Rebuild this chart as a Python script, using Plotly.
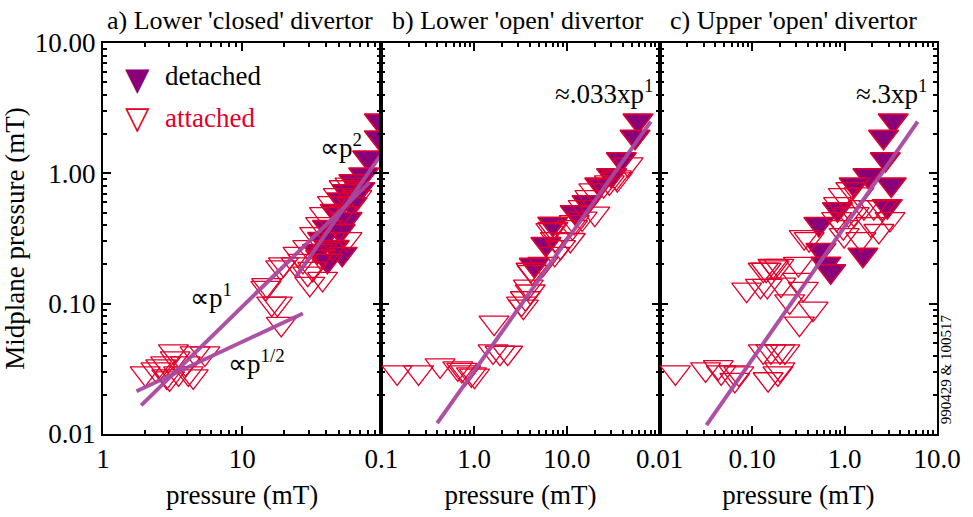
import plotly.graph_objects as go

# ---------------- data ----------------
# Panel a) Lower 'closed' divertor
a_att_x = [2.01, 2.40, 2.82, 3.21, 3.91, 4.59, 5.40, 2.87, 4.10, 3.49, 4.45, 3.01, 2.6, 3.3,
           15.0, 19.8, 16.3, 17.9, 19.1, 14.8, 24.4, 30.6, 18.9,
           59.5, 54.0, 49.0, 44.5, 66.7, 39.0, 52.3, 36.6, 56.7, 33.2, 43.0, 29.6, 36.6,
           27.3, 32.1, 44.5, 25.2, 29.6, 37.8]
a_att_y = [0.0292, 0.0313, 0.0348, 0.0431, 0.0348, 0.0415, 0.0415, 0.0277, 0.0292, 0.0292, 0.0277, 0.0267, 0.033, 0.038,
           0.139, 0.20, 0.10, 0.10, 0.070, 0.132, 0.20, 0.142, 0.19,
           0.82, 0.782, 0.68, 0.59, 0.656, 0.486, 0.495, 0.408, 0.313, 0.342, 0.313, 0.272, 0.229,
           0.213, 0.185, 0.263, 0.241, 0.170, 0.155]
a_det_x = [96.8, 96.8, 79.7, 74.7, 63.5, 70.0, 56.7, 52.3, 61.5, 46.7, 56.7, 41.0, 50.6, 37.8,
           45.9, 52.3, 34.8, 41.0]
a_det_y = [2.54, 1.88, 1.32, 0.98, 0.869, 0.755, 0.729, 0.63, 0.58, 0.513, 0.446, 0.387, 0.361, 0.313,
           0.272, 0.241, 0.254, 0.213]

# Panel b) Lower 'open' divertor
b_att_x = [0.148, 0.252, 0.43, 0.667, 0.735, 0.81, 0.935, 1.01, 1.64, 1.60, 1.90, 2.30, 3.24, 3.40, 4.03,
           19.5, 17.7, 15.0, 12.0, 11.5, 6.71, 7.5, 8.55, 5.52, 4.1, 24.9, 28.7, 34.2, 7.05, 4.23,
           3.84, 7.40, 10.9, 14.6, 3.57, 20.0, 45.7, 35.0]
b_att_y = [0.0297, 0.0297, 0.0336, 0.0319, 0.031, 0.0297, 0.0287, 0.028, 0.0716, 0.043, 0.042, 0.042, 0.100, 0.095, 0.124,
           0.741, 0.656, 0.55, 0.423, 0.387, 0.367, 0.313, 0.272, 0.202, 0.182, 0.81, 0.853, 0.93, 0.374, 0.175,
           0.135, 0.241, 0.308, 0.45, 0.11, 0.49, 1.17, 0.90]
b_det_x = [58.4, 54.3, 38.6, 30.3, 22.6, 16.5, 12.3, 5.94, 4.44, 7.05]
b_det_y = [2.54, 1.91, 1.28, 0.966, 0.82, 0.60, 0.503, 0.287, 0.199, 0.41]

# Panel c) Upper 'open' divertor
c_att_x = [0.0148, 0.0314, 0.0431, 0.0463, 0.0635, 0.0718, 0.065, 0.132, 0.160, 0.20, 0.226, 0.149, 0.20, 0.19,
           0.0873, 0.123, 0.146, 0.132, 0.168, 0.195, 0.255, 0.325, 0.457, 0.309, 0.358, 0.205,
           0.97, 0.86, 1.10, 1.27, 1.62, 2.07, 2.57, 0.82, 0.97, 0.99, 0.366, 0.414, 0.317, 0.173,
           0.142, 1.92, 2.35, 1.5, 3.1, 1.43, 1.17]
c_att_y = [0.0297, 0.0313, 0.0326, 0.0297, 0.0297, 0.0292, 0.026, 0.0431, 0.0431, 0.0431, 0.0431, 0.0263, 0.0313, 0.0292,
           0.128, 0.137, 0.137, 0.182, 0.195, 0.195, 0.104, 0.0703, 0.0916, 0.152, 0.130, 0.140,
           0.68, 0.58, 0.486, 0.486, 0.55, 0.55, 0.55, 0.446, 0.387, 0.336, 0.324, 0.313, 0.202, 0.19,
           0.182, 0.408, 0.361, 0.313, 0.446, 0.69, 0.755]
c_det_x = [3.36, 2.64, 2.76, 1.79, 1.27, 3.20, 2.9, 0.528, 0.839, 0.555, 1.58, 0.627, 0.708]
c_det_y = [2.54, 1.91, 1.28, 0.966, 0.82, 0.82, 0.56, 0.408, 0.53, 0.258, 0.237, 0.202, 0.177]

# fitted power-law lines (end points)
a_fit_half_x = [1.74, 27.3]
a_fit_half_y = [0.0213, 0.084]
a_fit_one_x = [1.88, 82.3]
a_fit_one_y = [0.0166, 0.853]
a_fit_two_x = [24.4, 100.0]
a_fit_two_y = [0.161, 1.40]
b_fit_x = [0.40, 80.2]
b_fit_y = [0.0121, 2.49]
c_fit_x = [0.0321, 6.18]
c_fit_y = [0.0117, 2.49]

# tick labels
y_tickvals = [0.01, 0.1, 1, 10]
y_ticktext = ["0.01", "0.10", "1.00", "10.00"]
a_tickvals = [1, 10]
a_ticktext = ["1", "10"]
b_tickvals = [0.1, 1, 10]
b_ticktext = ["0.1", "1.0", "10.0"]
c_tickvals = [0.01, 0.1, 1, 10]
c_ticktext = ["0.01", "0.10", "1.0", "10.0"]

titles = ["a) Lower 'closed' divertor", "b) Lower 'open' divertor", "c) Upper 'open' divertor"]

# ---------------- style ----------------
FONT = "Liberation Serif, Times New Roman, serif"
FS = 27
PURPLE = "#8A0078"
RED = "#E2002B"
LINE = "rgba(168,72,158,0.95)"
MSIZE = 26

fig = go.Figure()

panels = [
    ("x", "y", a_att_x, a_att_y, a_det_x, a_det_y,
     [(a_fit_half_x, a_fit_half_y), (a_fit_one_x, a_fit_one_y), (a_fit_two_x, a_fit_two_y)]),
    ("x2", "y2", b_att_x, b_att_y, b_det_x, b_det_y, [(b_fit_x, b_fit_y)]),
    ("x3", "y3", c_att_x, c_att_y, c_det_x, c_det_y, [(c_fit_x, c_fit_y)]),
]

for xa, ya, ax_, ay_, dx_, dy_, fits in panels:
    fig.add_trace(go.Scatter(x=dx_, y=dy_, xaxis=xa, yaxis=ya, mode="markers", showlegend=False,
                             marker=dict(symbol="triangle-down", size=MSIZE, color=PURPLE,
                                         line=dict(color=RED, width=1.5))))
    fig.add_trace(go.Scatter(x=ax_, y=ay_, xaxis=xa, yaxis=ya, mode="markers", showlegend=False,
                             marker=dict(symbol="triangle-down-open", size=MSIZE, color=RED,
                                         line=dict(color=RED, width=1.3))))
    for fx, fy in fits:
        fig.add_trace(go.Scatter(x=fx, y=fy, xaxis=xa, yaxis=ya, mode="lines", showlegend=False,
                                 line=dict(color=LINE, width=4)))

L, R, T, B = 96, 26, 43, 81
W, H = 973, 517
pw = W - L - R


def dom(p0, p1):
    return [(p0 - L) / pw, (p1 - L) / pw]


minor_y = [m * 10.0 ** e for e in (-2, -1, 0) for m in range(2, 10)]
minor_a = [m * 10.0 ** e for e in (0, 1) for m in range(2, 10)]
minor_b = [m * 10.0 ** e for e in (-1, 0, 1) for m in range(2, 10)]
minor_c = [m * 10.0 ** e for e in (-2, -1, 0) for m in range(2, 10)]

common_axis = dict(type="log", showline=True, linecolor="black", linewidth=2, mirror="ticks",
                   ticks="inside", ticklen=8, tickwidth=2, tickcolor="black", showgrid=False,
                   zeroline=False, tickfont=dict(family=FONT, size=FS, color="black"))


def xaxis(domain, rng, tv, tt, minor, anchor):
    d = dict(common_axis)
    d.update(domain=domain, range=rng, tickmode="array", tickvals=tv, ticktext=tt, anchor=anchor,
             minor=dict(tickmode="array", tickvals=minor, ticks="inside", ticklen=4, tickwidth=1.5,
                        tickcolor="black", showgrid=False),
             title=dict(text="pressure (mT)", font=dict(family=FONT, size=FS, color="black"), standoff=12))
    return d


def yaxis(anchor, show_labels):
    d = dict(common_axis)
    d.update(domain=[0, 1], range=[-2, 1], tickmode="array", tickvals=y_tickvals, ticktext=y_ticktext,
             anchor=anchor, showticklabels=show_labels,
             minor=dict(tickmode="array", tickvals=minor_y, ticks="inside", ticklen=4, tickwidth=1.5,
                        tickcolor="black", showgrid=False))
    if show_labels:
        d["title"] = dict(text="Midplane pressure (mT)", font=dict(family=FONT, size=FS, color="black"),
                          standoff=4)
    return d


fig.update_layout(
    width=W, height=H,
    margin=dict(l=L, r=R, t=T, b=B),
    paper_bgcolor="white", plot_bgcolor="white",
    font=dict(family=FONT, size=FS, color="black"),
    xaxis=xaxis(dom(96, 380), [0, 2], a_tickvals, a_ticktext, minor_a, "y"),
    xaxis2=xaxis(dom(380, 664), [-1, 2], b_tickvals, b_ticktext, minor_b, "y2"),
    xaxis3=xaxis(dom(664, 947), [-2, 1], c_tickvals, c_ticktext, minor_c, "y3"),
    yaxis=yaxis("x", True),
    yaxis2=yaxis("x2", False),
    yaxis3=yaxis("x3", False),
    showlegend=False,
)


def px(x):
    return (x - L) / pw


def py(y):
    return (H - B - y) / (H - T - B)


def txt(text, x, y, xanchor="center", size=FS, color="black", family=FONT, **kw):
    d = dict(text=text, x=px(x), y=py(y), xref="paper", yref="paper", showarrow=False,
             xanchor=xanchor, yanchor="middle", font=dict(family=family, size=size, color=color))
    d.update(kw)
    return d


ann = [txt(t, cx, 20, size=26) for t, cx in zip(titles, [236, 519, 801])]
ann += [
    txt("\u221dp<sup>2</sup>", 315, 147, "left"),
    txt("\u221dp<sup>1</sup>", 183, 297, "left"),
    txt("\u221dp<sup>1/2</sup>", 221, 364, "left"),
    txt("\u2248.033xp<sup>1</sup>", 660, 92, "right"),
    txt("\u2248.3xp<sup>1</sup>", 940, 92, "right"),
    # legend drawn as text symbols
    txt("\u25BC", 131, 79, size=32, color=PURPLE, family="DejaVu Sans"),
    txt("detached", 157, 76, "left"),
    txt("\u25BD", 131, 118, size=32, color=RED, family="DejaVu Sans"),
    txt("attached", 157, 118, "left", color=RED),
    txt("990429 & 100517", 957, 371, size=15, textangle=-90),
]

fig.update_layout(annotations=ann)
fig.write_html("out.html")
